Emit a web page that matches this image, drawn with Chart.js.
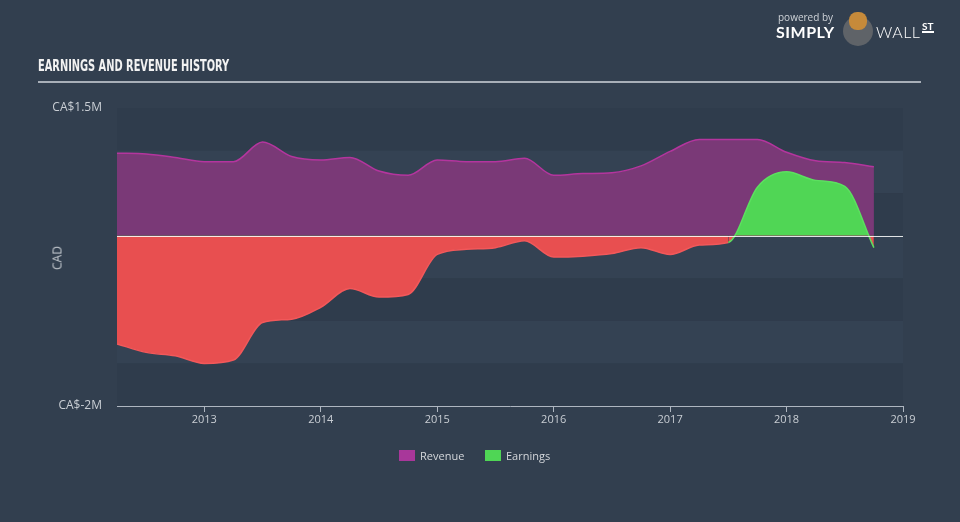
<!DOCTYPE html>
<html>
<head>
<meta charset="utf-8">
<script src="https://cdn.jsdelivr.net/npm/chart.js@4.4.0/dist/chart.umd.min.js"></script>
<style>
  html, body { margin: 0; padding: 0; background: #323f4f; }
  #wrap { position: relative; width: 960px; height: 522px; overflow: hidden; font-family: "Open Sans", sans-serif; }
  #chart { position: absolute; left: 0; top: 0; }
  #title { position: absolute; left: 38px; top: 57px; color: #f2f2f2; font-family: "DejaVu Sans Condensed", "Liberation Sans Narrow", sans-serif; font-weight: bold; font-size: 15px; white-space: nowrap; transform-origin: left top; }
  #rule { position: absolute; left: 38px; top: 81px; width: 883px; height: 2px; background: #a8afb8; }
  #cad { position: absolute; left: 57px; top: 258px; color: #c4c9cf; font-size: 12px; transform: translate(-50%, -50%) rotate(-90deg); }
  .leg { position: absolute; top: 449px; font-size: 11px; color: #d4d7db; line-height: 13px; }
  .leg i { display: inline-block; width: 16px; height: 11px; vertical-align: -1px; margin-right: 5px; }
  #logo { position: absolute; left: 776px; top: 10px; color: #fff; }
  #logo .pb { position: absolute; left: 2px; top: 0; font-size: 10px; color: #cfd3d8; white-space: nowrap; }
  #logo .sim { position: absolute; left: 0; top: 12px; font-size: 16px; font-weight: bold; letter-spacing: 0.5px; font-family: "Lato", sans-serif; }
  #logo .bull { position: absolute; left: 67px; top: 6px; width: 30px; height: 30px; border-radius: 50%; background: #5f6368; }
  #logo .head { position: absolute; left: 73px; top: 2px; width: 18px; height: 18px; border-radius: 45%; background: #c68a3a; }
  #logo .wall { position: absolute; left: 100px; top: 12px; font-size: 16px; letter-spacing: 0.5px; font-family: "Lato", sans-serif; font-weight: 300; }
  #logo .st { position: absolute; left: 146px; top: 11px; font-size: 10px; font-weight: bold; border-bottom: 2px solid #fff; line-height: 10px; font-family: "Lato", sans-serif; }
</style>
</head>
<body>
<div id="wrap">
  <canvas id="chart" width="960" height="522"></canvas>
  <div id="title">EARNINGS AND REVENUE HISTORY</div>
  <div id="rule"></div>
  <div id="cad">CAD</div>
  <div class="leg" style="left:399px"><i style="background:#a8379a"></i>Revenue</div>
  <div class="leg" style="left:485px"><i style="background:#4fd655"></i>Earnings</div>
  <div id="logo">
    <div class="pb">powered by</div>
    <div class="sim">SIMPLY</div>
    <div class="bull"></div>
    <div class="head"></div>
    <div class="wall">WALL</div>
    <div class="st">ST</div>
  </div>
</div>
<script>
// quarterly points, values in CA$ millions
const years = [2012.25, 2012.5, 2012.75, 2013, 2013.25, 2013.5, 2013.75, 2014, 2014.25, 2014.5, 2014.75,
  2015, 2015.25, 2015.5, 2015.75, 2016, 2016.25, 2016.5, 2016.75, 2017, 2017.25, 2017.5, 2017.75,
  2018, 2018.25, 2018.5, 2018.75];
const revenue = [0.97, 0.96, 0.92, 0.87, 0.87, 1.10, 0.93, 0.89, 0.92, 0.76, 0.71,
  0.89, 0.87, 0.87, 0.91, 0.71, 0.73, 0.74, 0.82, 0.99, 1.13, 1.13, 1.13,
  0.98, 0.88, 0.86, 0.81];
const earnings = [-1.27, -1.37, -1.41, -1.50, -1.46, -1.02, -0.98, -0.84, -0.62, -0.72, -0.69,
  -0.22, -0.16, -0.14, -0.06, -0.25, -0.24, -0.21, -0.14, -0.22, -0.11, -0.08, 0.57,
  0.75, 0.65, 0.58, -0.14];
const xTicks = [2013, 2014, 2015, 2016, 2017, 2018, 2019];
const yTicks = [-2, 1.5];

// fit title width to the reference
const t = document.getElementById('title');
t.style.transform = 'scaleX(' + (191 / t.offsetWidth) + ')';

const bands = {
  id: 'bands',
  beforeDatasetsDraw(chart) {
    const { ctx, chartArea: a, scales: { y } } = chart;
    ctx.save();
    let i = 0;
    for (let v = 1.5; v > -2; v -= 0.5, i++) {
      const top = y.getPixelForValue(v), bot = y.getPixelForValue(v - 0.5);
      ctx.fillStyle = i % 2 ? '#344253' : '#2f3c4c';
      ctx.fillRect(a.left, top, a.right - a.left, bot - top);
    }
    ctx.restore();
  },
  afterDatasetsDraw(chart) {
    const { ctx, chartArea: a, scales: { y } } = chart;
    const z = Math.round(y.getPixelForValue(0)) + 0.5;
    ctx.save();
    ctx.strokeStyle = 'rgba(255,255,255,0.85)';
    ctx.lineWidth = 1;
    ctx.beginPath();
    ctx.moveTo(a.left, z);
    ctx.lineTo(a.right, z);
    ctx.stroke();
    ctx.restore();
  }
};

const pts = arr => years.map((x, i) => ({ x: x, y: arr[i] }));

new Chart(document.getElementById('chart'), {
  type: 'line',
  data: {
    datasets: [{
      label: 'Earnings',
      data: pts(earnings),
      fill: { target: 'origin', above: '#50d655', below: '#e84f50' },
      borderColor: '#f05a5a',
      segment: {
        borderColor: c => (c.p0.parsed.y + c.p1.parsed.y) / 2 >= 0 ? '#5ce060' : '#f2585a'
      },
      borderWidth: 1.5,
      pointRadius: 0,
      cubicInterpolationMode: 'monotone'
    }, {
      label: 'Revenue',
      data: pts(revenue),
      fill: { target: 'origin', above: '#7a3977', below: '#7a3977' },
      borderColor: '#b4359e',
      borderWidth: 1.5,
      pointRadius: 0,
      cubicInterpolationMode: 'monotone'
    }]
  },
  options: {
    responsive: false,
    animation: false,
    layout: { padding: { top: 108, right: 57, bottom: 86, left: 0 } },
    plugins: { legend: { display: false }, tooltip: { enabled: false } },
    scales: {
      x: {
        type: 'linear',
        min: 2012.25,
        max: 2019,
        afterBuildTicks: s => { s.ticks = xTicks.map(v => ({ value: v })); },
        afterFit: s => { s.height = 30; },
        grid: { drawOnChartArea: false, drawTicks: true, tickLength: 6, color: '#aeb6c0' },
        border: { color: '#aeb6c0', width: 1 },
        ticks: { color: '#c9ced4', font: { family: 'Open Sans', size: 11 }, padding: 1, maxRotation: 0, callback: v => String(v) }
      },
      y: {
        min: -2,
        max: 1.5,
        afterBuildTicks: s => { s.ticks = yTicks.map(v => ({ value: v })); },
        afterFit: s => { s.width = 117; },
        grid: { display: false, drawTicks: false },
        border: { display: false },
        ticks: { color: '#c9ced4', font: { family: 'Open Sans', size: 12 }, padding: 15, callback: v => 'CA$' + v + 'M' }
      }
    }
  },
  plugins: [bands]
});
</script>
</body>
</html>
